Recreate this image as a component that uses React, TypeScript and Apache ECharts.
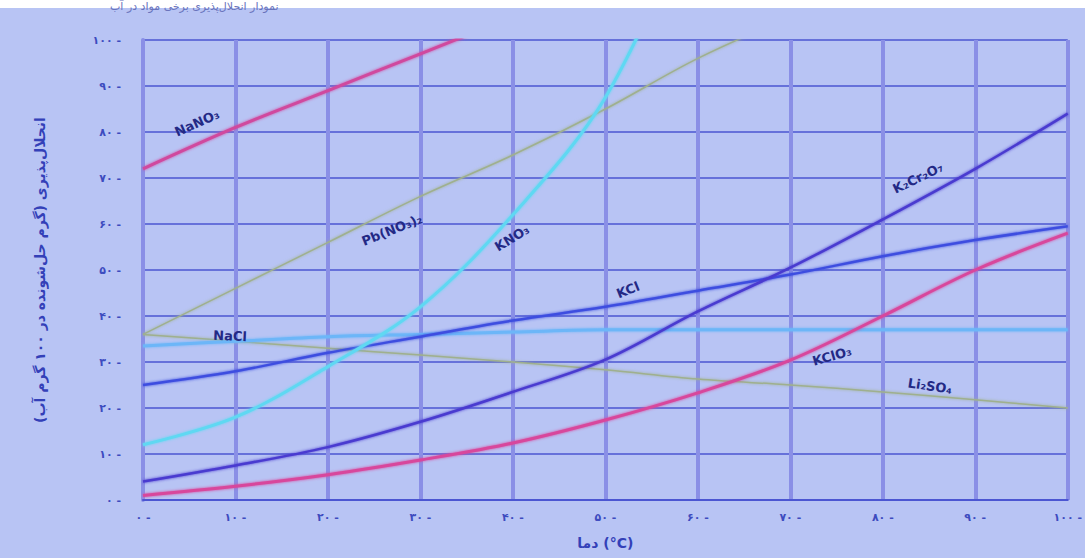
import React, { useEffect, useRef } from "react";
import * as echarts from "echarts";

// Temperatures (°C)
const temps = [0, 10, 20, 30, 40, 50, 60, 70, 80, 90, 100];
// Solubility values (g per 100 g water)
const naNO3 = [72, 81, 89, 97, 105];
const kNO3 = [12, 18, 29, 42, 62, 87.5, 130];
const pbNO32 = [36, 46, 56, 66, 75, 85, 96, 105];
const li2SO4 = [36, 34.5, 33, 31.5, 30, 28.3, 26.3, 25, 23.5, 21.8, 20];
const naCl = [33.5, 34.5, 35.5, 36, 36.5, 37, 37, 37, 37, 37, 37];
const kCl = [25, 28, 32, 35.5, 39, 42, 45.5, 49, 53, 56.5, 59.5];
const k2Cr2O7 = [4, 7.5, 11.5, 17, 23.5, 30.5, 41, 50.5, 61, 72, 84];
const kClO3 = [1, 3, 5.5, 8.7, 12.4, 17.4, 23.3, 30.4, 40, 50, 58];

const yAxisName = "انحلال‌پذیری (گرم حل‌شونده در ۱۰۰ گرم آب)";
const xAxisName = "دما (°C)";
const titleText = "نمودار انحلال‌پذیری برخی مواد در آب";

const toFa = (n: number) =>
  String(n).replace(/[0-9]/g, (d) => "۰۱۲۳۴۵۶۷۸۹"[Number(d)]);

const pairs = (vals: number[]) => vals.map((v, i) => [temps[i], v]);

const FONT = "'DejaVu Sans', sans-serif";
const LABEL_COLOR = "#232985";

export default function App() {
  const ref = useRef<HTMLDivElement>(null);
  useEffect(() => {
    if (!ref.current) return;
    const chart = echarts.init(ref.current, undefined, { renderer: "svg" });
    const mk = (name: string, vals: number[], color: string, width: number) => ({
      name,
      type: "line",
      data: pairs(vals),
      smooth: 0.35,
      symbol: "none",
      clip: true,
      lineStyle: { color, width, shadowColor: color, shadowBlur: 3 },
      z: 5,
    });
    const lbl = (text: string, x: number, y: number, rot: number) => ({
      type: "text",
      x,
      y,
      rotation: rot,
      z: 20,
      style: {
        text,
        fill: LABEL_COLOR,
        font: `bold 13px ${FONT}`,
        align: "center",
        verticalAlign: "middle",
      },
    });
    chart.setOption({
      animation: false,
      backgroundColor: "#b8c4f4",
      grid: { left: 143, right: 17, top: 40, bottom: 58 },
      xAxis: {
        type: "value",
        min: 0,
        max: 100,
        interval: 10,
        axisLine: { show: true, lineStyle: { color: "#4b56d2", width: 2 } },
        axisTick: { show: false },
        axisLabel: {
          color: "#3d4bbf",
          fontFamily: FONT,
          fontSize: 11,
          fontWeight: "bold",
          margin: 12,
          formatter: (v: number) => `${toFa(v)} -`,
        },
        splitLine: {
          show: true,
          showMinLine: true,
          showMaxLine: true,
          lineStyle: { color: "#8a8fe6", width: 4 },
        },
        name: xAxisName,
        nameLocation: "middle",
        nameGap: 36,
        nameTextStyle: { color: "#3340b8", fontFamily: FONT, fontSize: 14, fontWeight: "bold" },
      },
      yAxis: {
        type: "value",
        min: 0,
        max: 100,
        interval: 10,
        axisLine: { show: true, lineStyle: { color: "#8a8fe6", width: 4 } },
        axisTick: { show: false },
        axisLabel: {
          color: "#3d4bbf",
          fontFamily: FONT,
          fontSize: 11,
          fontWeight: "bold",
          margin: 22,
          formatter: (v: number) => `${toFa(v)} -`,
        },
        splitLine: {
          show: true,
          showMinLine: true,
          showMaxLine: true,
          lineStyle: { color: "#4b56d2", width: 1.5 },
        },
        name: yAxisName,
        nameLocation: "middle",
        nameGap: 96,
        nameRotate: 90,
        nameTextStyle: { color: "#3340b8", fontFamily: FONT, fontSize: 14, fontWeight: "bold" },
      },
      series: [
        mk("Li2SO4", li2SO4, "#9fb08e", 1.5),
        mk("Pb(NO3)2", pbNO32, "#9fb08e", 1.5),
        mk("NaCl", naCl, "#6cb6f8", 3),
        mk("KCl", kCl, "#3e4ee0", 2.5),
        mk("K2Cr2O7", k2Cr2O7, "#4a3ad0", 2.5),
        mk("KClO3", kClO3, "#d8479c", 3),
        mk("KNO3", kNO3, "#5fd8f2", 3),
        mk("NaNO3", naNO3, "#d0489e", 3),
      ],
      graphic: [
        {
          type: "rect",
          shape: { x: 0, y: 0, width: 1085, height: 8 },
          style: { fill: "#ffffff" },
          z: 10,
        },
        {
          type: "text",
          x: 110,
          y: 1,
          z: 11,
          style: {
            text: titleText,
            fill: "#6a74bc",
            font: `11px ${FONT}`,
            align: "left",
            verticalAlign: "top",
          },
        },
        lbl("NaNO₃", 197, 123, 0.42),
        lbl("Pb(NO₃)₂", 392, 230, 0.38),
        lbl("KNO₃", 512, 238, 0.55),
        lbl("NaCl", 230, 336, -0.04),
        lbl("KCl", 628, 290, 0.38),
        lbl("K₂Cr₂O₇", 918, 178, 0.45),
        lbl("KClO₃", 832, 356, 0.28),
        lbl("Li₂SO₄", 930, 386, -0.15),
      ],
    });
    return () => chart.dispose();
  }, []);
  return (
    <div
      ref={ref}
      style={{ position: "fixed", left: 0, top: 0, width: 1085, height: 558 }}
    />
  );
}
